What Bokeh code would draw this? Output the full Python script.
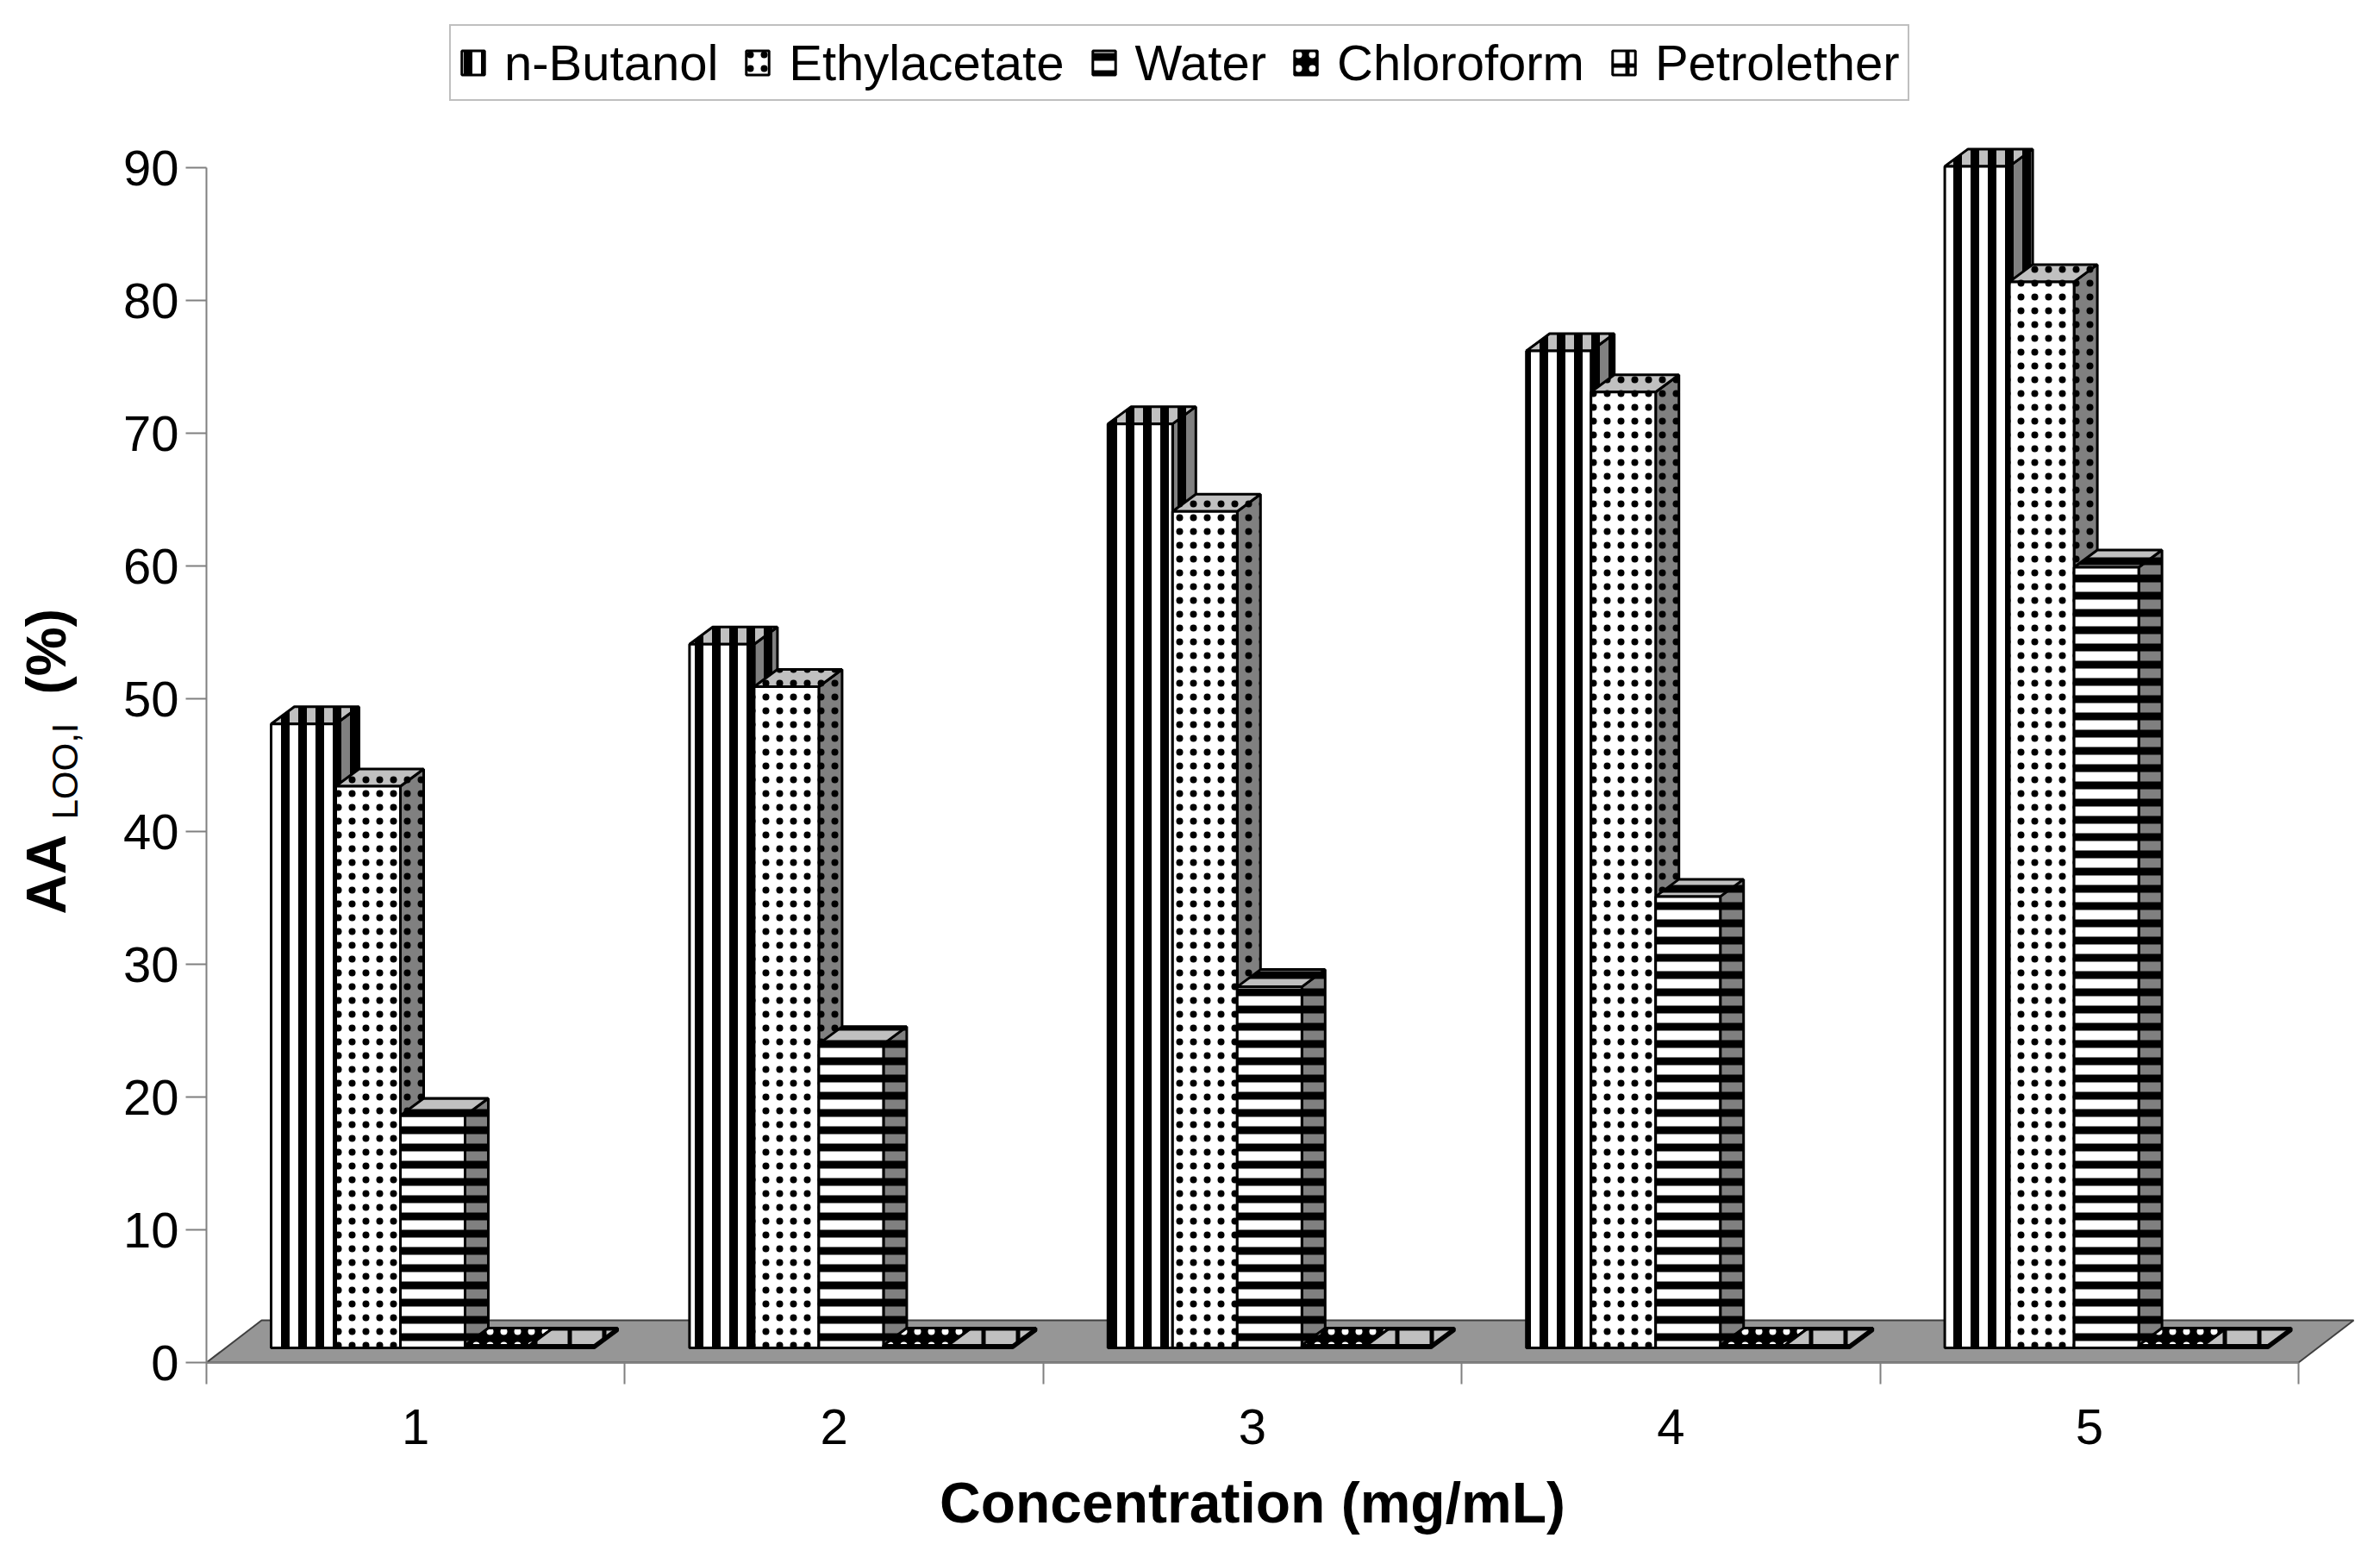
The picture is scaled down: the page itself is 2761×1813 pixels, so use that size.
import math
from bokeh.plotting import figure
from bokeh.models import Range1d, FixedTicker, Legend, LegendItem, LinearAxis
from bokeh.core.properties import value
from bokeh.embed import file_html
from bokeh.resources import INLINE

# ---------------- data ----------------
categories = ["1", "2", "3", "4", "5"]
series_names = ["n-Butanol", "Ethylacetate", "Water", "Chloroform", "Petrolether"]
n_butanol = [47.0, 53.0, 69.6, 75.1, 89.0]
ethylacetate = [42.3, 49.8, 63.0, 72.0, 80.3]
water = [17.5, 22.9, 27.2, 34.0, 58.8]
chloroform = [0.2, 0.2, 0.2, 0.2, 0.2]
petrolether = [0.2, 0.2, 0.2, 0.2, 0.2]
y_ticks = [0, 10, 20, 30, 40, 50, 60, 70, 80, 90]
x_title = "Concentration (mg/mL)"
y_title_main = "AA"
y_title_sub = "LOO,I"
y_title_unit = "(%)"

# ---------------- layout / styles ----------------
W, H = 2745, 1797
AX_X, AX_Y = 239, 1580      # pixel position of the axes origin on the canvas
PX_CAT = 485.4              # pixels per category
PX_UNIT = 15.4              # pixels per value unit
FONT = "Liberation Sans"
GRAY = "#808080"

n_cat = len(categories)
bar_w = 75 / PX_CAT
dx = 27 / PX_CAT
dy = 20 / PX_UNIT
base = 17 / PX_UNIT
floor_dx = 64 / PX_CAT
floor_dy = 49 / PX_UNIT


def px_x(px):
    return (px - AX_X) / PX_CAT


def px_y(py):
    return (AX_Y - py) / PX_UNIT


p = figure(width=W, height=H,
           x_range=Range1d(px_x(0), px_x(W)), y_range=Range1d(px_y(H), px_y(0)),
           output_backend="svg", toolbar_location=None,
           x_axis_location=None, y_axis_location=None, min_border=0)
p.xgrid.visible = False
p.ygrid.visible = False
p.outline_line_color = None
p.background_fill_color = "white"
p.border_fill_color = "white"

# floor
p.patch([0, n_cat, n_cat + floor_dx, floor_dx], [0, 0, floor_dy, floor_dy],
        fill_color="#969696", line_color="#404040", line_width=2)

styles = [
    dict(front="white", top="#c0c0c0", side=GRAY, hatch="vertical_line", hc="black", hs=20, hw=10),
    dict(front="white", top="#c0c0c0", side=GRAY, hatch="dot", hc="black", hs=16, hw=1),
    dict(front="white", top="#c0c0c0", side=GRAY, hatch="horizontal_line", hc="black", hs=20, hw=9),
    dict(front="black", top="black", side="black", hatch="dot", hc="white", hs=16, hw=1),
    dict(front="white", top="#c0c0c0", side=GRAY, hatch="cross", hc="black", hs=40, hw=5),
]
all_series = [n_butanol, ethylacetate, water, chloroform, petrolether]

legend_items = []
for s, (name, vals, st) in enumerate(zip(series_names, all_series, styles)):
    lefts = [c + bar_w * (1 + s) for c in range(n_cat)]
    rights = [l + bar_w for l in lefts]
    tops = [base + v for v in vals]
    side_xs = [[r, r + dx, r + dx, r] for r in rights]
    side_ys = [[base, base + dy, t + dy, t] for t in tops]
    top_xs = [[l, r, r + dx, l + dx] for l, r in zip(lefts, rights)]
    top_ys = [[t, t, t + dy, t + dy] for t in tops]
    hatch = dict(hatch_pattern=st["hatch"], hatch_color=st["hc"], hatch_scale=st["hs"], hatch_weight=st["hw"])
    p.patches(side_xs, side_ys, fill_color=st["side"], line_color="black", line_width=3, **hatch)
    p.patches(top_xs, top_ys, fill_color=st["top"], line_color="black", line_width=3, **hatch)
    r = p.quad(left=lefts, right=rights, bottom=[base] * n_cat, top=tops,
               fill_color=st["front"], line_color="black", line_width=3, **hatch)
    legend_items.append(LegendItem(label=name, renderers=[r]))

legend = Legend(items=legend_items, orientation="horizontal", location=(521, H - 117),
                label_text_font=FONT, label_text_font_size="58px", label_text_color="black",
                glyph_width=33, glyph_height=35, label_standoff=20, spacing=29, padding=9, margin=0,
                border_line_color=GRAY, border_line_width=2, background_fill_color="white",
                background_fill_alpha=1.0)
p.add_layout(legend)

# x axis (drawn at value 0)
centers = [c + 0.5 for c in range(n_cat)]
xa = LinearAxis(fixed_location=0)
xa.ticker = FixedTicker(ticks=centers, minor_ticks=list(range(n_cat + 1)))
xa.major_label_overrides = {c: lab for c, lab in zip(centers, categories)}
xa.bounds = (0, n_cat)
xa.axis_line_color = GRAY
xa.axis_line_width = 2
xa.major_tick_in = 0
xa.major_tick_out = 0
xa.major_tick_line_color = None
xa.minor_tick_in = 0
xa.minor_tick_out = 25
xa.minor_tick_line_color = GRAY
xa.minor_tick_line_width = 2
xa.major_label_standoff = 29
xa.major_label_text_font = FONT
xa.major_label_text_font_size = "58px"
xa.major_label_text_color = "black"
xa.axis_label = x_title
xa.axis_label_text_font = FONT
xa.axis_label_text_font_style = "bold"
xa.axis_label_text_font_size = "66px"
xa.axis_label_text_color = "black"
xa.axis_label_standoff = 28
p.add_layout(xa, "below")

# y axis (drawn at category origin)
ya = LinearAxis(fixed_location=0)
ya.ticker = FixedTicker(ticks=y_ticks, minor_ticks=[])
ya.bounds = (y_ticks[0], y_ticks[-1])
ya.axis_line_color = GRAY
ya.axis_line_width = 2
ya.major_tick_in = 0
ya.major_tick_out = 24
ya.major_tick_line_color = GRAY
ya.major_tick_line_width = 2
ya.minor_tick_out = 0
ya.minor_tick_in = 0
ya.major_label_standoff = 8
ya.major_label_text_font = FONT
ya.major_label_text_font_size = "58px"
ya.major_label_text_color = "black"
p.add_layout(ya, "left")

# y title with subscript (rotated texts)
p.text(x=[px_x(53.5), px_x(53.5)], y=[px_y(1060), px_y(805)], text=[y_title_main, y_title_unit],
       angle=math.pi / 2, text_font=value(FONT), text_font_style="bold", text_font_size="64px",
       text_color="black", text_align="left", text_baseline="middle")
p.text(x=[px_x(74.5)], y=[px_y(950)], text=[y_title_sub],
       angle=math.pi / 2, text_font=value(FONT), text_font_style="normal", text_font_size="42px",
       text_color="black", text_align="left", text_baseline="middle")

open("out.html", "w").write(file_html(p, INLINE))
